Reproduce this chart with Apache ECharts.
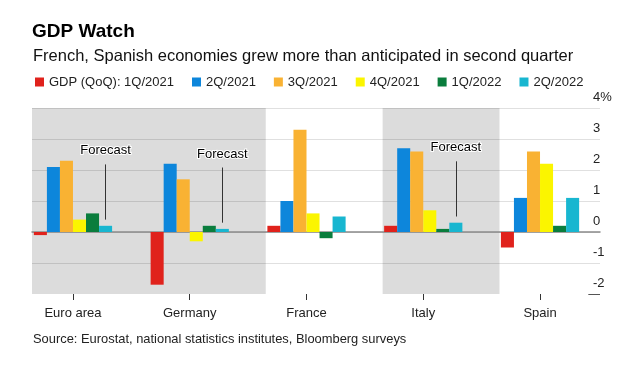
<!DOCTYPE html>
<html>
<head>
<meta charset="utf-8">
<script src="https://cdn.jsdelivr.net/npm/echarts@6/dist/echarts.min.js"></script>
<style>
html,body{margin:0;padding:0;background:#fff;}
#chart{width:642px;height:374px;}
</style>
</head>
<body>
<div id="chart"></div>
<script>
const categories = ['Euro area', 'Germany', 'France', 'Italy', 'Spain'];
const quarters = ['1Q/2021', '2Q/2021', '3Q/2021', '4Q/2021', '1Q/2022', '2Q/2022'];
const q1_2021 = [-0.1, -1.7, 0.2, 0.2, -0.5];
const q2_2021 = [2.1, 2.2, 1.0, 2.7, 1.1];
const q3_2021 = [2.3, 1.7, 3.3, 2.6, 2.6];
const q4_2021 = [0.4, -0.3, 0.6, 0.7, 2.2];
const q1_2022 = [0.6, 0.2, -0.2, 0.1, 0.2];
const q2_2022 = [0.2, 0.1, 0.5, 0.3, 1.1];
const yTicks = [-2, -1, 0, 1, 2, 3, 4];
const forecastCategories = ['Euro area', 'Germany', 'Italy'];
const shadedGroups = [['Euro area', 'Germany'], ['Italy']];

const seriesValues = [q1_2021, q2_2021, q3_2021, q4_2021, q1_2022, q2_2022];
const colors = ['#e0221c', '#0d86db', '#f9b233', '#fbf500', '#0a7d3d', '#18b6d0'];
const FONT = '"Liberation Sans", Arial, Helvetica, sans-serif';

const chart = echarts.init(document.getElementById('chart'), null, {renderer: 'canvas'});

const barSeries = seriesValues.map((vals, i) => {
  const s = {
    name: quarters[i],
    type: 'bar',
    xAxisIndex: 0,
    yAxisIndex: 0,
    data: vals,
    barGap: '0%',
    barCategoryGap: '33%',
    itemStyle: {color: colors[i]},
    z: 3
  };
  if (i === seriesValues.length - 1) {
    s.markLine = {
      silent: true,
      symbol: ['none', 'none'],
      lineStyle: {color: '#333', width: 1, type: 'solid'},
      label: {
        show: true, position: 'start', formatter: 'Forecast', distance: 7,
        color: '#000', fontSize: 13, fontFamily: FONT,
        textBorderColor: '#fff', textBorderWidth: 2
      },
      data: forecastCategories.map(c => {
        const v = vals[categories.indexOf(c)];
        const bottom = Math.max(v, 0) + 0.2;
        return [{coord: [c, bottom + 1.78]}, {coord: [c, bottom]}];
      })
    };
  }
  return s;
});

const bandSeries = {
  type: 'line',
  xAxisIndex: 1,
  yAxisIndex: 1,
  data: [],
  z: -1,
  silent: true,
  markArea: {
    silent: true,
    z: 0,
    itemStyle: {color: '#dcdcdc'},
    data: shadedGroups.map(g => [
      {xAxis: categories.indexOf(g[0])},
      {xAxis: categories.indexOf(g[g.length - 1]) + 1}
    ])
  },
  markLine: {
    silent: true,
    symbol: ['none', 'none'],
    label: {show: false},
    lineStyle: {color: '#555', width: 1, type: 'solid'},
    data: [[{coord: [4.76, yTicks[0]]}, {coord: [4.86, yTicks[0]]}]]
  }
};

const option = {
  animation: false,
  textStyle: {fontFamily: FONT},
  title: [
    {text: 'GDP Watch', left: 32, top: 22, padding: 0,
     textStyle: {fontSize: 19, fontWeight: 'bold', color: '#000', fontFamily: FONT}},
    {text: 'French, Spanish economies grew more than anticipated in second quarter', left: 33, top: 48, padding: 0,
     textStyle: {fontSize: 16.5, fontWeight: 'normal', color: '#111', fontFamily: FONT}},
    {text: 'Source: Eurostat, national statistics institutes, Bloomberg surveys', left: 33, top: 333, padding: 0,
     textStyle: {fontSize: 12.9, fontWeight: 'normal', color: '#222', fontFamily: FONT}}
  ],
  legend: {
    left: 35, top: 75.5, padding: 0,
    itemWidth: 9, itemHeight: 9, itemGap: 18,
    icon: 'rect',
    data: quarters,
    formatter: name => (name === quarters[0] ? 'GDP (QoQ): ' + name : name),
    textStyle: {fontSize: 13, color: '#222', fontFamily: FONT}
  },
  grid: [
    {left: 14.6, right: 43.6, top: 108, height: 186},
    {left: 32, right: 42, top: 108, height: 186}
  ],
  xAxis: [
    {
      type: 'category', gridIndex: 0, data: categories,
      position: 'bottom',
      axisLine: {show: false, onZero: false},
      axisTick: {show: true, alignWithLabel: true, length: 6, lineStyle: {color: '#333'}},
      axisLabel: {margin: 13, fontSize: 13, color: '#222', fontFamily: FONT}
    },
    {
      type: 'value', gridIndex: 1, min: 0, max: 4.86, z: 2,
      axisLine: {show: true, onZero: true, lineStyle: {color: '#8a8a8a', width: 1.5}},
      axisTick: {show: false}, axisLabel: {show: false}, splitLine: {show: false}
    }
  ],
  yAxis: [
    {type: 'value', gridIndex: 0, min: -2, max: 4, interval: 1, show: false},
    {
      type: 'value', gridIndex: 1, min: -2, max: 4, interval: 1, z: 2,
      position: 'right',
      axisLine: {show: false}, axisTick: {show: false},
      splitLine: {show: true, showMinLine: false, lineStyle: {color: 'rgba(0,0,0,0.12)', width: 1}},
      axisLabel: {
        align: 'left', margin: -7, fontSize: 13, color: '#222', fontFamily: FONT,
        verticalAlign: 'bottom', lineHeight: 21,
        formatter: v => (v === yTicks[yTicks.length - 1] ? v + '%' : String(v))
      }
    }
  ],
  series: [bandSeries].concat(barSeries)
};

chart.setOption(option);
</script>
</body>
</html>
